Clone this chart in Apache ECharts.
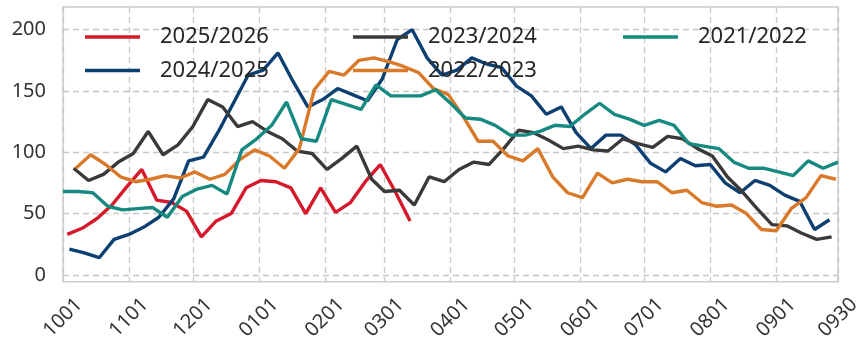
<!DOCTYPE html>
<html><head><meta charset="utf-8">
<script src="https://cdn.jsdelivr.net/npm/echarts@6/dist/echarts.min.js"></script>
<style>html,body{margin:0;padding:0;background:#fff}#c{width:865px;height:343px}</style>
</head><body><div id="c"></div>
<script>
// x tick labels (month-day) and y tick values
const tickLabels = ['1001','1101','1201','0101','0201','0301','0401','0501','0601','0701','0801','0901','0930'];
const yTicks = [0, 50, 100, 150, 200];

// seasons (legend order) and first weekly date of each season
const seasons = ['2025/2026', '2024/2025', '2023/2024', '2022/2023', '2021/2022'];
const startDates = ['2025-10-03', '2024-10-04', '2023-10-06', '2022-10-07', '2021-10-01'];

// weekly values
const s2526 = [33,38,46,57,72,86,61,59,52,31,44,50,71,77,76,71,50,71,51,59,76,90,68,44];
const s2425 = [21,18,14,29,33,39,47,62,93,96,117,140,163,167,181,158,137,143,152,147,142,160,192,200,177,163,167,177,172,169,154,146,131,137,116,103,114,114,106,91,84,95,89,90,75,67,77,73,65,60,37,45];
const s2324 = [87,77,82,92,99,117,98,106,121,143,137,121,125,117,111,101,99,86,95,105,78,68,69,57,80,76,86,92,90,103,118,116,110,103,105,102,101,111,107,104,113,111,103,97,80,68,54,41,40,34,29,31];
const s2223 = [87,98,90,80,76,78,81,79,84,78,82,94,102,97,87,103,151,166,163,175,177,174,170,165,152,147,129,109,109,97,93,103,80,67,63,83,75,78,76,76,67,69,59,56,57,50,37,36,54,63,81,78];
const s2122 = [68,68,67,56,53,54,55,47,64,70,73,66,102,111,122,141,111,109,143,139,135,155,146,146,146,151,140,128,127,122,114,114,117,122,121,131,140,131,127,122,126,122,107,105,103,92,87,87,84,81,93,87,92];

const seriesValues = [s2526, s2425, s2324, s2223, s2122];
const colors = ['#d5182a', '#0c3f72', '#3a3a3a', '#d9792a', '#168a80'];

// day offset of a month/day on a common Oct-1 based season axis
function dayOffset(month, day) {
  const y = month >= 10 ? 2021 : 2022;
  return (Date.UTC(y, month - 1, day) - Date.UTC(2021, 9, 1)) / 86400000;
}
const tickPos = tickLabels.map(t => dayOffset(+t.slice(0, 2), +t.slice(2)));

function buildData(start, vals) {
  const [sy, sm, sd] = start.split('-').map(Number);
  return vals.map((v, k) => {
    const d = new Date(Date.UTC(sy, sm - 1, sd + 7 * k));
    return [dayOffset(d.getUTCMonth() + 1, d.getUTCDate()), v];
  });
}

const FONT = '"Noto Sans", "DejaVu Sans", sans-serif';
const legendBase = {
  orient: 'vertical', top: 25, padding: 0, itemGap: 9.5,
  itemWidth: 55, itemHeight: 3.5, icon: 'rect',
  textStyle: { fontSize: 22, color: '#262626', fontFamily: FONT, lineHeight: 24, padding: [0, 0, 0, 15] }
};

const chart = echarts.init(document.getElementById('c'), null, { renderer: 'canvas' });
chart.setOption({
  animation: false,
  backgroundColor: '#ffffff',
  grid: { left: 63, right: 27, top: 7, bottom: 61, show: true, borderColor: '#cccccc', borderWidth: 1.5 },
  legend: [
    Object.assign({}, legendBase, { left: 85, data: [seasons[0], seasons[1]] }),
    Object.assign({}, legendBase, { left: 353, data: [seasons[2], seasons[3]] }),
    Object.assign({}, legendBase, { left: 623, data: [seasons[4]] })
  ],
  xAxis: {
    type: 'value', min: 0, max: 364,
    axisLine: { show: false },
    axisTick: { show: false, customValues: tickPos },
    axisLabel: {
      customValues: tickPos,
      formatter: v => { const i = tickPos.indexOf(v); return i >= 0 ? tickLabels[i] : ''; },
      rotate: 45, align: 'center', verticalAlign: 'middle', margin: 36,
      fontSize: 20, color: '#333333', fontFamily: FONT
    },
    splitLine: { show: true, lineStyle: { type: [6, 4], color: '#c8c8c8', width: 1.3 } }
  },
  yAxis: {
    type: 'value', min: -5.5, max: 218.5,
    axisLine: { show: false },
    axisTick: { show: false, customValues: yTicks },
    axisLabel: { customValues: yTicks, fontSize: 20, color: '#333333', margin: 17, fontFamily: FONT },
    splitLine: { show: true, lineStyle: { type: [6, 4], color: '#c8c8c8', width: 1.3 } }
  },
  series: seasons.map((name, i) => ({
    name, type: 'line', showSymbol: false, symbol: 'none',
    data: buildData(startDates[i], seriesValues[i]),
    lineStyle: { width: 3.4, color: colors[i] },
    itemStyle: { color: colors[i] }
  }))
});
</script>
</body></html>
